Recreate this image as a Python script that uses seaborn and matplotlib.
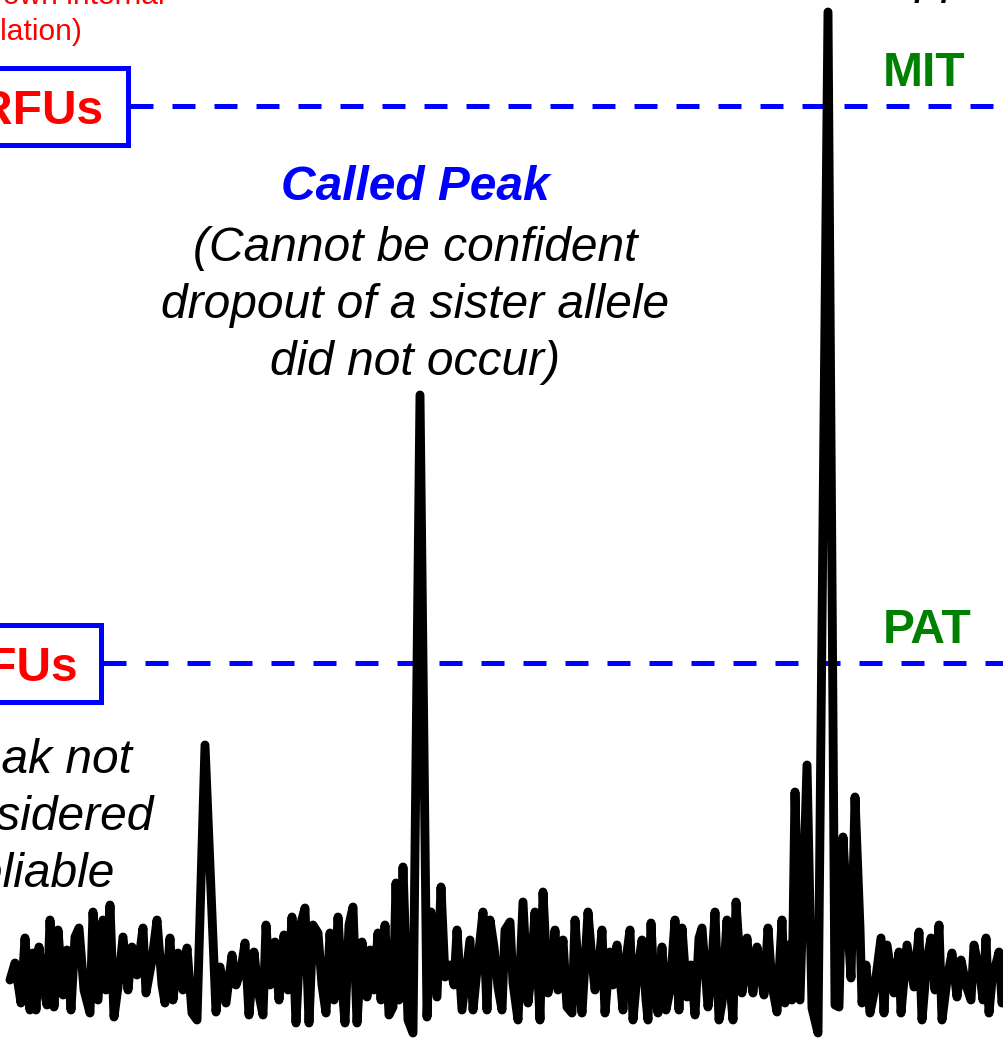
import matplotlib
matplotlib.use("Agg")
import matplotlib.pyplot as plt
import seaborn as sns
import pandas as pd
from matplotlib.patches import Rectangle

# ---------------- data ----------------
trace_x = [10, 15, 21, 25, 30, 33, 36, 39, 43, 47, 50, 54, 58, 63, 67, 71, 75, 79, 84, 90,
           93, 98, 103, 106, 110, 114, 118, 123, 128, 132, 137, 143, 146, 152, 157, 162, 165, 170, 173, 178,
           183, 187, 192, 197, 205, 216, 220, 226, 232, 236, 241, 245, 249, 254, 258, 263, 266, 270, 275, 279,
           284, 288, 292, 296, 301, 305, 309, 313, 318, 322, 326, 330, 334, 338, 342, 345, 349, 353, 357, 362,
           367, 370, 374, 378, 381, 385, 389, 393, 396, 399, 403, 408, 413, 420, 427, 431, 437, 441, 445, 450,
           454, 457, 462, 466, 470, 473, 478, 483, 487, 490, 494, 498, 502, 505, 510, 513, 518, 523, 528, 531,
           535, 540, 543, 548, 552, 555, 558, 563, 567, 572, 575, 579, 582, 588, 592, 595, 599, 602, 605, 610,
           613, 617, 623, 626, 630, 633, 637, 642, 646, 648, 651, 654, 658, 662, 666, 670, 675, 679, 682, 687,
           691, 695, 699, 702, 708, 711, 715, 719, 722, 727, 730, 733, 736, 742, 747, 750, 753, 757, 761, 764,
           768, 772, 777, 782, 785, 789, 792, 795, 800, 807, 812, 818, 828, 835, 839, 843, 848, 851, 855, 860,
           862, 866, 870, 874, 881, 884, 887, 894, 899, 901, 907, 914, 919, 922, 927, 931, 935, 939, 942, 947,
           952, 957, 961, 966, 971, 974, 980, 983, 986, 989, 992, 999, 1002, 1008]
trace_rfu = [58, 75, 35, 100, 28, 85, 28, 91, 53, 33, 118, 31, 108, 43, 88, 28, 101, 110, 48, 25,
             126, 38, 118, 48, 133, 21, 51, 101, 48, 91, 63, 110, 45, 78, 118, 53, 35, 100, 38, 85,
             48, 90, 25, 18, 293, 26, 71, 35, 83, 53, 68, 95, 23, 86, 48, 23, 113, 53, 96, 38,
             103, 48, 121, 15, 115, 130, 15, 113, 105, 53, 25, 105, 38, 121, 53, 15, 113, 131, 15, 96,
             41, 88, 48, 105, 38, 113, 23, 31, 155, 38, 171, 18, 5, 643, 21, 126, 41, 151, 61, 73,
             53, 108, 28, 63, 98, 28, 78, 126, 28, 118, 91, 51, 28, 108, 116, 55, 18, 136, 35, 63,
             126, 18, 146, 45, 68, 108, 48, 98, 31, 25, 118, 58, 25, 126, 78, 48, 73, 108, 25, 86,
             53, 93, 28, 78, 108, 18, 63, 98, 38, 18, 115, 53, 25, 91, 28, 48, 118, 28, 110, 41,
             73, 23, 100, 110, 31, 58, 126, 18, 35, 118, 53, 18, 136, 45, 100, 63, 45, 91, 63, 43,
             110, 53, 26, 118, 35, 93, 38, 246, 38, 273, 30, 5, 1026, 33, 31, 201, 110, 60, 241, 110,
             35, 73, 25, 45, 100, 25, 93, 45, 86, 25, 93, 51, 106, 18, 78, 100, 48, 113, 18, 58,
             85, 41, 78, 53, 38, 93, 63, 38, 100, 25, 58, 86, 35, 78]

threshold_names = ["MIT", "PAT"]
threshold_values = [932, 375]
threshold_box_labels = ["200 RFUs", "50 RFUs"]

# ---------------- figure ----------------
sns.set_theme(style="white")
plt.rcParams["font.family"] = ["Liberation Sans", "DejaVu Sans"]

W, H = 1004, 1038
fig = plt.figure(figsize=(W / 100, H / 100), dpi=100)
ax = fig.add_axes([0, 0, 1, 1])

BIG = 34.5
BLUE = "#0000FF"
RED = "#FF0000"
GREEN = "#008000"

# threshold lines + boxes + labels
line_start = [130, 103]
box_right = [127.5, 100.5]
box_half = 38.5
box_text_right = [103, 78]
box_text_off = -18
for name, val, lbl, xs, br, tr in zip(threshold_names, threshold_values, threshold_box_labels,
                                      line_start, box_right, box_text_right):
    ax.hlines(val, xs, W, colors=BLUE, linewidth=3.6, linestyles=(0, (4.6, 3.8)), zorder=2)
    ax.add_patch(Rectangle((-300, val - box_half), br + 300, 2 * box_half, fill=False,
                           edgecolor=BLUE, linewidth=3.6, zorder=3))
    ax.text(tr, val + box_text_off, lbl, color=RED, fontsize=BIG, fontweight="bold",
            ha="right", va="baseline", zorder=4)
    ax.text(883, val + 20, name, color=GREEN, fontsize=BIG, fontweight="bold",
            ha="left", va="baseline", zorder=4)

# trace
df = pd.DataFrame({"size": trace_x, "rfu": trace_rfu})
sns.lineplot(data=df, x="size", y="rfu", ax=ax, color="black", linewidth=6.4,
             estimator=None, sort=False, legend=False, zorder=5,
             solid_joinstyle="round", solid_capstyle="round")
ax.set_xlim(0, W)
ax.set_ylim(0, H)
ax.axis("off")

# red note at top-left
ax.text(165, 1034, "(based on own internal", color=RED, fontsize=21.6,
        ha="right", va="baseline")
ax.text(83, 998, "calculation)", color=RED, fontsize=21.6, ha="right", va="baseline")

# top-right clipped text
ax.text(890, 1045, "approx.", color="black", fontsize=BIG, style="italic",
        ha="left", va="baseline")

# called peak annotation
ax.text(415, 838, "Called Peak", color=BLUE, fontsize=BIG, fontweight="bold",
        style="italic", ha="center", va="baseline")
for txt, yb in zip(["(Cannot be confident", "dropout of a sister allele", "did not occur)"],
                   [777, 720, 663]):
    ax.text(415, yb, txt, color="black", fontsize=BIG, style="italic",
            ha="center", va="baseline")

# left annotation (clipped)
for txt, yb in zip(["Peak not", "considered", "reliable"], [265, 208, 151]):
    ax.text(37, yb, txt, color="black", fontsize=BIG, style="italic",
            ha="center", va="baseline")

fig.savefig("out.png", dpi=100)
